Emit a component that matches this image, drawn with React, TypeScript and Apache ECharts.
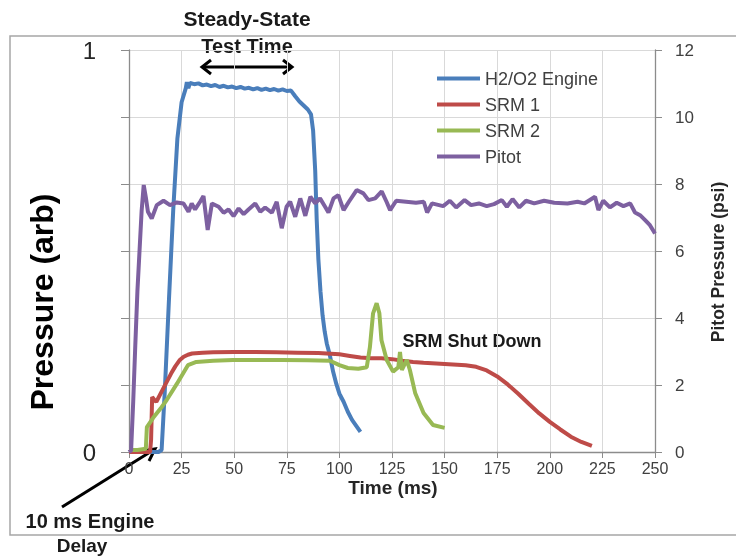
import React, { useEffect, useRef } from "react";
import * as echarts from "echarts";

const xTicks = [0, 25, 50, 75, 100, 125, 150, 175, 200, 225, 250];

const engineT = [0, 5, 10, 14, 15.5, 17, 19, 21, 23, 25, 27, 27.5, 28.2, 29, 31, 33, 35, 37, 39, 41, 43, 45, 47, 49, 51, 53, 55, 57, 59, 61, 63, 65, 67, 69, 71, 73, 75, 77, 79, 81, 83, 85, 86.5, 87.5, 88.5, 89.2, 90, 91, 92, 93, 94, 95.5, 97, 98.5, 100, 102, 104, 106, 108, 110];
const engineV = [0, 0, 0, 0, 0.005, 0.15, 0.38, 0.6, 0.78, 0.87, 0.905, 0.92, 0.905, 0.918, 0.915, 0.917, 0.912, 0.914, 0.91, 0.913, 0.908, 0.911, 0.907, 0.909, 0.905, 0.908, 0.904, 0.906, 0.902, 0.905, 0.901, 0.904, 0.9, 0.903, 0.899, 0.902, 0.898, 0.899, 0.885, 0.872, 0.862, 0.852, 0.84, 0.8, 0.7, 0.58, 0.48, 0.4, 0.34, 0.3, 0.27, 0.24, 0.2, 0.17, 0.145, 0.125, 0.1, 0.08, 0.065, 0.05];

const srm1T = [0, 5, 10, 10.5, 11, 12, 13, 14, 16, 18, 20, 22, 24, 26, 28, 30, 35, 40, 50, 60, 70, 80, 90, 100, 105, 110, 115, 120, 125, 130, 135, 140, 150, 160, 165, 170, 175, 180, 185, 190, 195, 200, 205, 210, 215, 220];
const srm1V = [0, 0, 0, 0.03, 0.137, 0.13, 0.125, 0.135, 0.155, 0.175, 0.195, 0.213, 0.228, 0.237, 0.242, 0.245, 0.247, 0.248, 0.249, 0.249, 0.248, 0.247, 0.246, 0.243, 0.239, 0.235, 0.233, 0.233, 0.231, 0.227, 0.224, 0.222, 0.219, 0.216, 0.212, 0.203, 0.188, 0.168, 0.145, 0.12, 0.096, 0.075, 0.056, 0.038, 0.025, 0.015];

const srm2T = [0, 4, 8, 8.5, 11.5, 15, 18, 22.8, 28, 32, 40, 49.5, 60, 73, 85, 95.5, 100, 104, 109, 113, 114.5, 116, 117.7, 119, 120, 122.5, 125.5, 128, 128.8, 129.7, 132, 133.5, 136, 140, 144.5, 150];
const srm2V = [0.005, 0.005, 0.008, 0.062, 0.085, 0.108, 0.13, 0.17, 0.216, 0.224, 0.227, 0.229, 0.229, 0.229, 0.228, 0.227, 0.216, 0.209, 0.207, 0.211, 0.261, 0.345, 0.37, 0.345, 0.278, 0.229, 0.2, 0.211, 0.249, 0.204, 0.229, 0.204, 0.147, 0.097, 0.067, 0.06];

const pitotT = [0, 1, 2, 3, 4, 5, 6, 7, 8, 9, 10.8, 13.2, 16.4, 19.5, 22.7, 25.9, 28.3, 29.8, 31.4, 33.8, 35.4, 37.4, 39.4, 42.6, 45, 47.3, 49.7, 52.1, 54.5, 56.8, 60, 62.4, 64.7, 67.9, 70.2, 72.6, 74.9, 76.6, 79, 81.4, 83.8, 86.2, 88.5, 90.8, 93.2, 94.8, 97.2, 99.5, 102, 104.5, 108.2, 111.4, 113.8, 117, 120.1, 122.4, 124.1, 127, 131.7, 136.4, 140.1, 141.7, 144, 149.3, 152.5, 155.5, 159.5, 162.6, 166.3, 170, 173.5, 177.2, 179.6, 182.3, 185.5, 188.7, 192.6, 197.3, 202.1, 208.4, 213.2, 216.4, 221.5, 223.1, 225.4, 228.6, 231.8, 235, 238.2, 240.5, 242.9, 245.3, 247.6, 250];
const pitotV = [0, 0.05, 1.5, 3.2, 4.8, 6.0, 7.2, 7.97, 7.6, 7.17, 6.97, 7.37, 7.5, 7.37, 7.45, 7.42, 7.17, 7.42, 7.24, 7.47, 7.64, 6.63, 7.42, 7.32, 7.14, 7.24, 7.04, 7.27, 7.1, 7.24, 7.42, 7.17, 7.3, 7.14, 7.47, 6.68, 7.32, 7.47, 7.02, 7.57, 7.05, 7.62, 7.42, 7.57, 7.32, 7.15, 7.57, 7.67, 7.22, 7.47, 7.82, 7.72, 7.52, 7.57, 7.78, 7.47, 7.22, 7.5, 7.47, 7.44, 7.47, 7.15, 7.42, 7.34, 7.5, 7.3, 7.52, 7.37, 7.42, 7.34, 7.4, 7.52, 7.32, 7.55, 7.3, 7.5, 7.42, 7.5, 7.44, 7.42, 7.47, 7.42, 7.62, 7.22, 7.5, 7.3, 7.44, 7.34, 7.42, 7.15, 7.07, 6.92, 6.77, 6.52];

const seriesNames = ["H2/O2 Engine", "SRM 1", "SRM 2", "Pitot"];
const seriesColors = ["#4a7ebb", "#be4b48", "#98b954", "#7d60a0"];

const pairs = (t: number[], v: number[]) => t.map((x, i) => [x, v[i]]);

const FONT = "Liberation Sans, Arial, sans-serif";
const LBL = "#404040";

export default function App() {
  const ref = useRef<HTMLDivElement>(null);
  useEffect(() => {
    if (!ref.current) return;
    const chart = echarts.init(ref.current, undefined, { renderer: "svg" });
    const datasets = [
      pairs(engineT, engineV),
      pairs(srm1T, srm1V),
      pairs(srm2T, srm2V),
      pairs(pitotT, pitotV),
    ];
    chart.setOption({
      animation: false,
      textStyle: { fontFamily: FONT },
      grid: { left: 129, right: 81, top: 50, bottom: 105, containLabel: false },
      legend: {
        orient: "vertical",
        left: 437,
        top: 68,
        padding: 0,
        itemWidth: 43,
        itemHeight: 4,
        itemGap: 5,
        icon: "rect",
        textStyle: { fontSize: 18, color: LBL, fontFamily: FONT, lineHeight: 21 },
        data: seriesNames,
      },
      xAxis: {
        type: "value",
        min: 0,
        max: 250,
        interval: 25,
        axisLine: { show: true, lineStyle: { color: "#8c8c8c", width: 1.3 } },
        axisTick: { show: true, length: 6, lineStyle: { color: "#8c8c8c" } },
        axisLabel: {
          fontSize: 16,
          color: LBL,
          margin: 8,
          formatter: (v: number) => (xTicks.includes(v) ? String(v) : ""),
        },
        splitLine: { show: true, lineStyle: { color: "#d9d9d9", width: 1 } },
      },
      yAxis: [
        {
          type: "value",
          min: 0,
          max: 1,
          interval: 1 / 6,
          axisLine: { show: true, lineStyle: { color: "#8c8c8c", width: 1.3 } },
          axisTick: { show: true, length: 8, lineStyle: { color: "#8c8c8c" } },
          axisLabel: {
            fontSize: 24,
            color: "#262626",
            margin: 33,
            formatter: (v: number) => (Math.abs(v - 1) < 1e-6 ? "1" : Math.abs(v) < 1e-6 ? "0" : ""),
          },
          splitLine: { show: true, lineStyle: { color: "#d9d9d9", width: 1 } },
        },
        {
          type: "value",
          min: 0,
          max: 12,
          interval: 2,
          position: "right",
          axisLine: { show: true, lineStyle: { color: "#8c8c8c", width: 1.3 } },
          axisTick: { show: true, length: 7, lineStyle: { color: "#8c8c8c" } },
          axisLabel: { fontSize: 17, color: LBL, margin: 20 },
          splitLine: { show: false },
        },
      ],
      series: seriesNames.map((name, i) => ({
        name,
        type: "line",
        yAxisIndex: i === 3 ? 1 : 0,
        data: datasets[i],
        showSymbol: false,
        symbol: "none",
        color: seriesColors[i],
        lineStyle: { width: 4, color: seriesColors[i] },
        z: 2 + i,
      })),
      graphic: [
        {
          type: "rect",
          shape: { x: 10, y: 36, width: 760, height: 499 },
          style: { fill: "none", stroke: "#a6a6a6", lineWidth: 1.5 },
          silent: true,
          z: 0,
        },
        {
          type: "text",
          x: 247,
          y: 18,
          style: { text: "Steady-State", font: `bold 21px ${FONT}`, fill: "#1a1a1a", textAlign: "center", textVerticalAlign: "middle" },
        },
        {
          type: "text",
          x: 247,
          y: 46,
          style: { text: "Test Time", font: `bold 20px ${FONT}`, fill: "#1a1a1a", textAlign: "center", textVerticalAlign: "middle" },
        },
        { type: "line", shape: { x1: 202, y1: 67, x2: 292, y2: 67 }, style: { stroke: "#000", lineWidth: 3 } },
        { type: "polyline", shape: { points: [[211, 60], [202, 67], [211, 74]] }, style: { stroke: "#000", lineWidth: 3, fill: "none" } },
        { type: "polyline", shape: { points: [[283, 60], [292, 67], [283, 74]] }, style: { stroke: "#000", lineWidth: 3, fill: "none" } },
        {
          type: "text",
          x: 472,
          y: 341,
          style: { text: "SRM Shut Down", font: `bold 18px ${FONT}`, fill: "#1a1a1a", textAlign: "center", textVerticalAlign: "middle" },
        },
        {
          type: "text",
          x: 90,
          y: 521,
          style: { text: "10 ms Engine", font: `bold 20px ${FONT}`, fill: "#1a1a1a", textAlign: "center", textVerticalAlign: "middle" },
        },
        {
          type: "text",
          x: 82,
          y: 545,
          style: { text: "Delay", font: `bold 19px ${FONT}`, fill: "#1a1a1a", textAlign: "center", textVerticalAlign: "middle" },
        },
        { type: "line", shape: { x1: 62, y1: 507, x2: 155, y2: 449 }, style: { stroke: "#000", lineWidth: 3 } },
        { type: "polyline", shape: { points: [[142, 451], [155, 449], [149, 461]] }, style: { stroke: "#000", lineWidth: 3, fill: "none" } },
        {
          type: "text",
          x: 393,
          y: 487,
          style: { text: "Time (ms)", font: `bold 19px ${FONT}`, fill: "#262626", textAlign: "center", textVerticalAlign: "middle" },
        },
        {
          type: "text",
          x: 42,
          y: 302,
          rotation: Math.PI / 2,
          style: { text: "Pressure (arb)", font: `bold 32px ${FONT}`, fill: "#000", textAlign: "center", textVerticalAlign: "middle" },
        },
        {
          type: "text",
          x: 718,
          y: 262,
          rotation: Math.PI / 2,
          style: { text: "Pitot Pressure (psi)", font: `bold 17.5px ${FONT}`, fill: "#262626", textAlign: "center", textVerticalAlign: "middle" },
        },
      ],
    });
    return () => chart.dispose();
  }, []);
  return <div ref={ref} style={{ width: 736, height: 557, position: "fixed", left: 0, top: 0 }} />;
}
